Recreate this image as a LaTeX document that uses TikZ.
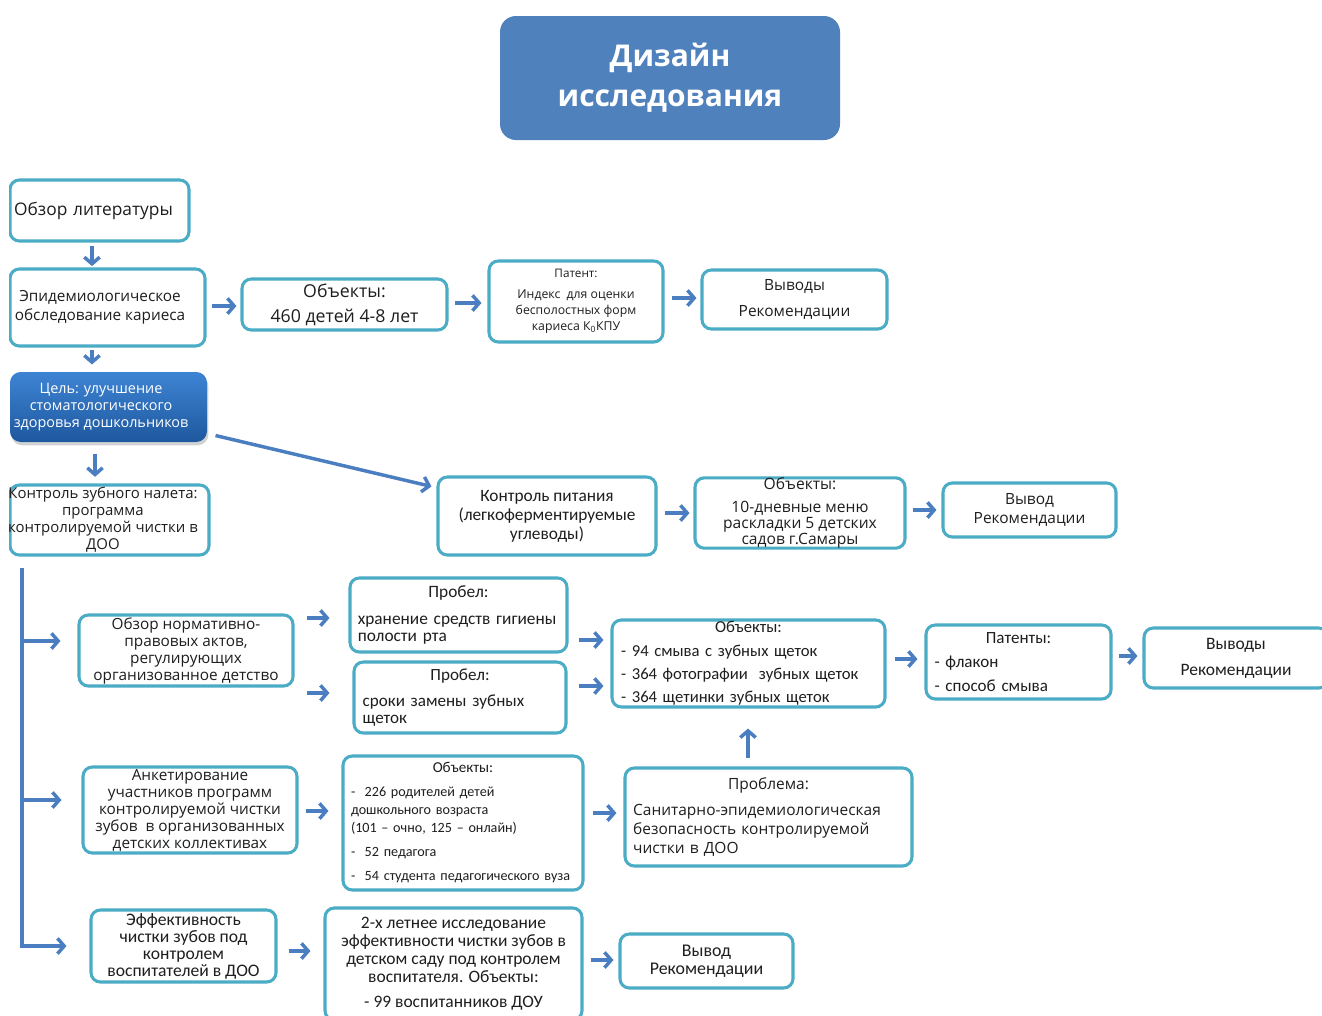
\documentclass[tikz,border=0pt]{standalone}
\usepackage{fontspec}
\setmainfont{Open Sans}
\newfontfamily\os{Open Sans}
\newfontfamily\ca{Carlito}
\usetikzlibrary{arrows.meta,shadows}
\definecolor{bord}{RGB}{75,172,198}
\definecolor{arrc}{RGB}{74,126,193}
\definecolor{titl}{RGB}{79,129,189}
\definecolor{txt}{RGB}{30,30,30}
\newcommand\fs[2]{\fontsize{#1}{#2}\selectfont}
\newcommand\pbox[7]{\node[box,#6,minimum width={(#4-#2)*0.75pt},minimum height={(#5-#3)*0.75pt}] (#1) at ({(#2+#4)/2},{(#3+#5)/2}) {#7};}
\begin{document}
\begin{tikzpicture}[x=0.75pt,y=-0.75pt,
  box/.style={draw=bord,line width=2.3pt,rounded corners=7pt,fill=white,inner sep=0pt,text=txt,align=center},
  lbox/.style={align=left,text width=#1},
  arr/.style={draw=arrc,line width=2.6pt,-{Straight Barb[length=5pt,width=11.5pt]}}]
\useasboundingbox (0,0) rectangle (1322,1015);
\fill[white] (0,0) rectangle (1322,1015);
\clip (9,0) rectangle (1322,1015);
% title
\pbox{title}{500}{16}{840}{140}{fill=titl,draw=none,rounded corners=12pt,text=white,font=\os\bfseries\fs{22.5}{30}}{Дизайн\\исследования}
% row 1
\pbox{lit}{10}{180}{189}{241}{font=\os\fs{13}{15},lbox=128pt}{Обзор литературы}
\pbox{epid}{10}{269}{205}{346}{}{}
\node[font=\os\fs{11.5}{14.25},text=txt,align=center] (epidt) at ([xshift=-5.6pt]epid.center) {Эпидемиологическое\\обследование кариеса};
\pbox{obj460}{242}{279}{447}{330}{font=\os\fs{13.3}{18.75}}{Объекты:\\460 детей 4-8 лет}
\pbox{patent}{489}{261}{663}{342}{font=\os\fs{9.2}{12}}{{\fs{8.8}{9}Патент:}\\[3.75pt]Индекс\ \ для оценки\\бесполостных форм\\кариеса К\textsubscript{0}КПУ}
\pbox{vyv1}{702}{270}{887}{329}{font=\os\fs{11.6}{19.5}}{Выводы\\Рекомендации}
% goal
\pbox{cel}{10}{372}{207}{442}{draw=none,top color={rgb,255:red,62;green,132;blue,212},bottom color={rgb,255:red,30;green,88;blue,158},rounded corners=8pt,drop shadow={shadow xshift=1pt,shadow yshift=-2.5pt,opacity=0.35}}{}
\node[font=\os\fs{10.8}{12.75},text=white,align=center] (celt) at ([xshift=-5.6pt]cel.center) {Цель: улучшение\\стоматологического\\здоровья дошкольников};
% row 2
\pbox{kz}{10}{485}{209}{555}{}{}
\node[font=\os\fs{11.2}{12.75},text=txt,align=center] (kzt) at ([xshift=-4.9pt]kz.center) {Контроль зубного налета:\\программа\\контролируемой чистки в\\ДОО};
\pbox{kp}{438}{477}{656}{555}{font=\ca\fs{13}{14.25}}{Контроль питания\\(легкоферментируемые\\углеводы)}
\pbox{o10}{695}{478}{905}{548}{font=\os\fs{11.7}{12}}{Объекты:\\[5pt]10-дневные меню\\раскладки 5 детских\\садов г.Самары}
\pbox{vyv2}{943}{483}{1116}{537}{font=\os\fs{11.6}{14.25}}{Вывод\\Рекомендации}
% row 3
\pbox{norm}{79}{615}{293}{686}{font=\os\fs{11.5}{12.75}}{Обзор нормативно-\\правовых актов,\\регулирующих\\организованное детство}
\pbox{prob1}{350}{578}{567}{652}{font=\ca\fs{13}{12.75},lbox=151pt}{\centering Пробел:\par\vspace{7.5pt}\raggedright хранение средств гигиены\\полости рта\par}
\pbox{prob2}{354}{662}{566}{733}{font=\ca\fs{12.8}{12.75},lbox=146pt}{\centering Пробел:\par\vspace{7pt}\raggedright сроки замены зубных\\щеток\par}
\pbox{o94}{612}{620}{885}{707}{font=\ca\fs{12.5}{17.5},lbox=191pt}{\centering Объекты:\par\raggedright - 94 смыва с зубных щеток\\- 364 фотографии\ \ зубных щеток\\- 364 щетинки зубных щеток\par}
\pbox{pat}{926}{625}{1111}{699}{font=\ca\fs{12.8}{18},lbox=126pt}{\centering Патенты:\par\raggedright - флакон\\- способ смыва\par}
\pbox{vyv3}{1144}{628}{1328}{688}{font=\ca\fs{13.1}{19.5}}{Выводы\\Рекомендации}
% row 4
\pbox{anket}{83}{767}{297}{853}{font=\os\fs{11.5}{12.75}}{Анкетирование\\участников программ\\контролируемой чистки\\зубов\ \ в организованных\\детских коллективах}
\pbox{o226}{343}{756}{583}{890}{font=\ca\fs{10.6}{13.5},lbox=168pt}{\centering{\fs{11.3}{13.5}Объекты:}\par\vspace{4pt}\raggedright -\ \ 226 родителей детей\\дошкольного возраста\\(101 – очно, 125 – онлайн)\\[4.5pt]-\ \ 52 педагога\\[5pt]-\ \ 54 студента педагогического вуза\par}
\pbox{problema}{625}{768}{912}{866}{font=\os\fs{11.6}{14.25},lbox=203pt}{\centering Проблема:\par\vspace{5pt}\raggedright Санитарно-эпидемиологическая\\безопасность контролируемой\\чистки в ДОО\par}
% row 5
\pbox{eff}{91}{910}{276}{982}{font=\ca\fs{13.2}{12.75}}{Эффективность\\чистки зубов под\\контролем\\воспитателей в ДОО}
\pbox{two}{325}{908}{582}{1020}{font=\ca\fs{13.1}{13.5}}{2-х летнее исследование\\эффективности чистки зубов в\\детском саду под контролем\\воспитателя. Объекты:\\[5pt]- 99 воспитанников ДОУ}
\pbox{vyv4}{620}{934}{793}{988}{font=\ca\fs{13.4}{13.5}}{Вывод\\Рекомендации}
% arrows
\draw[arr,shorten <=2.25pt,shorten >=1pt] (lit.south -| 92,0) -- (epid.north -| 92,0);
\draw[arr,shorten <=1.5pt,shorten >=4.5pt] (epid.south -| 92,0) -- (cel.north -| 92,0);
\draw[arr,shorten <=3.75pt,shorten >=3pt] (epid.east |- 0,306) -- (obj460.west |- 0,306);
\draw[arr,shorten <=4.5pt,shorten >=4.5pt] (obj460.east |- 0,303) -- (patent.west |- 0,303);
\draw[arr,shorten <=5.25pt,shorten >=3pt] (patent.east |- 0,298) -- (vyv1.west |- 0,298);
\draw[arr,shorten <=7.5pt,shorten >=5pt] (cel.south -| 95,0) -- (kz.north -| 95,0);
\draw[arr] ([xshift=5.25pt,yshift=6pt]cel.south east) -- ([xshift=-3.75pt,yshift=-8.25pt]kp.north west);
\draw[arr,shorten <=5.25pt,shorten >=3pt] (kp.east |- 0,513) -- (o10.west |- 0,513);
\draw[arr,shorten <=4.5pt,shorten >=3.75pt] (o10.east |- 0,510) -- (vyv2.west |- 0,510);
\coordinate (bartop) at (22,568);
\draw[arr,shorten >=17.25pt] (bartop) |- (eff.west);
\draw[arr,shorten >=12.75pt] (bartop |- 0,641) -- (norm.west |- 0,641);
\draw[arr,shorten >=15pt] (bartop |- 0,800) -- (anket.west |- 0,800);
\draw[arr,shorten <=9pt,shorten >=14.25pt] (norm.east |- 0,618) -- (prob1.west |- 0,618);
\draw[arr,shorten <=9pt,shorten >=17.25pt] (norm.east |- 0,693) -- (prob2.west |- 0,693);
\draw[arr,shorten <=7.5pt,shorten >=5.25pt] (prob1.east |- 0,640) -- (o94.west |- 0,640);
\draw[arr,shorten <=8.25pt,shorten >=5.25pt] (prob2.east |- 0,686) -- (o94.west |- 0,686);
\draw[arr,shorten <=6pt,shorten >=5.25pt] (o94.east |- 0,659) -- (pat.west |- 0,659);
\draw[arr,shorten <=4.5pt,shorten >=3.75pt] (pat.east |- 0,656) -- (vyv3.west |- 0,656);
\draw[arr,shorten <=6pt,shorten >=15pt] (problema.north -| 748,0) -- (o94.south -| 748,0);
\draw[arr,shorten <=5.25pt,shorten >=9.75pt] (anket.east |- 0,811) -- (o226.west |- 0,811);
\draw[arr,shorten <=6pt,shorten >=5.25pt] (o226.east |- 0,813) -- (problema.west |- 0,813);
\draw[arr,shorten <=8.25pt,shorten >=9.75pt] (eff.east |- 0,951) -- (two.west |- 0,951);
\draw[arr,shorten <=5.25pt,shorten >=3.75pt] (two.east |- 0,960) -- (vyv4.west |- 0,960);
\end{tikzpicture}
\end{document}
